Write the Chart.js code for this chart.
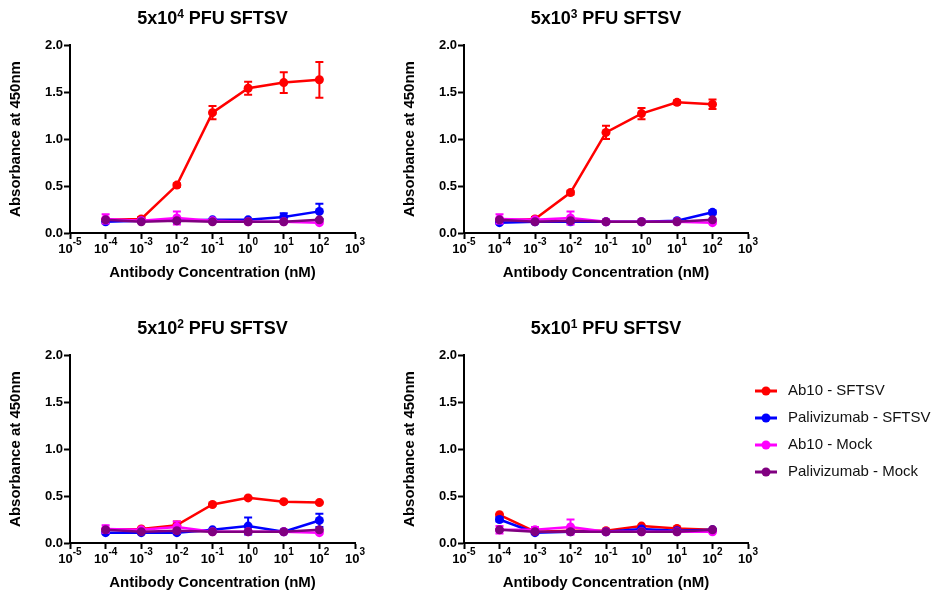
<!DOCTYPE html>
<html>
<head>
<meta charset="utf-8">
<script src="https://cdn.jsdelivr.net/npm/chart.js@4.4.1/dist/chart.umd.min.js"></script>
<style>
  body { margin: 0; width: 937px; height: 595px; overflow: hidden; background: #fff; position: relative; }
  canvas { position: absolute; }
</style>
</head>
<body>
<canvas id="p4" width="380" height="297" style="left:0;top:0"></canvas>
<canvas id="p3" width="390" height="297" style="left:380px;top:0"></canvas>
<canvas id="p2" width="380" height="297" style="left:0;top:310px"></canvas>
<canvas id="p1" width="557" height="297" style="left:380px;top:310px"></canvas>
<script>
// x values (nM) and axis ticks
const concentrations = [1e-4, 1e-3, 1e-2, 1e-1, 1, 10, 100];
const xTicks = [1e-5, 1e-4, 1e-3, 1e-2, 1e-1, 1, 10, 100, 1000];
const yTicks = [0, 0.5, 1.0, 1.5, 2.0];

const seriesNames = ['Ab10 - SFTSV', 'Palivizumab - SFTSV', 'Ab10 - Mock', 'Palivizumab - Mock'];
const seriesColors = ['#ff0000', '#0000ff', '#ff00ff', '#800080'];

// 5x10^4 PFU
const ab10Sftsv4 = [0.14, 0.15, 0.51, 1.28, 1.54, 1.60, 1.63];
const ab10Sftsv4Err = [0, 0.02, 0.02, 0.07, 0.07, 0.11, 0.19];
const paliSftsv4 = [0.12, 0.13, 0.13, 0.14, 0.14, 0.17, 0.23];
const paliSftsv4Err = [0, 0, 0, 0, 0, 0.04, 0.08];
const ab10Mock4 = [0.15, 0.13, 0.16, 0.13, 0.12, 0.12, 0.11];
const ab10Mock4Err = [0.05, 0.01, 0.07, 0, 0, 0, 0];
const paliMock4 = [0.14, 0.12, 0.13, 0.12, 0.12, 0.12, 0.14];
const paliMock4Err = [0, 0, 0, 0, 0, 0, 0];

// 5x10^3 PFU
const ab10Sftsv3 = [0.13, 0.15, 0.43, 1.07, 1.27, 1.39, 1.37];
const ab10Sftsv3Err = [0, 0.02, 0.02, 0.07, 0.06, 0.02, 0.05];
const paliSftsv3 = [0.11, 0.12, 0.12, 0.12, 0.12, 0.13, 0.22];
const paliSftsv3Err = [0, 0, 0, 0, 0, 0, 0.02];
const ab10Mock3 = [0.15, 0.14, 0.16, 0.12, 0.12, 0.12, 0.11];
const ab10Mock3Err = [0.05, 0.02, 0.07, 0, 0, 0, 0];
const paliMock3 = [0.14, 0.12, 0.13, 0.12, 0.12, 0.12, 0.14];
const paliMock3Err = [0, 0, 0, 0, 0, 0, 0];

// 5x10^2 PFU
const ab10Sftsv2 = [0.14, 0.15, 0.19, 0.41, 0.48, 0.44, 0.43];
const ab10Sftsv2Err = [0, 0.01, 0.04, 0.01, 0.01, 0.01, 0.01];
const paliSftsv2 = [0.11, 0.11, 0.11, 0.14, 0.18, 0.12, 0.24];
const paliSftsv2Err = [0, 0, 0, 0, 0.09, 0, 0.07];
const ab10Mock2 = [0.15, 0.14, 0.17, 0.12, 0.12, 0.12, 0.11];
const ab10Mock2Err = [0.04, 0.01, 0.06, 0, 0, 0, 0];
const paliMock2 = [0.14, 0.12, 0.13, 0.12, 0.12, 0.12, 0.14];
const paliMock2Err = [0, 0, 0, 0, 0, 0, 0];

// 5x10^1 PFU
const ab10Sftsv1 = [0.30, 0.12, 0.13, 0.13, 0.18, 0.155, 0.14];
const ab10Sftsv1Err = [0, 0, 0, 0, 0, 0, 0];
const paliSftsv1 = [0.25, 0.11, 0.12, 0.12, 0.15, 0.13, 0.14];
const paliSftsv1Err = [0.02, 0, 0, 0, 0, 0, 0];
const ab10Mock1 = [0.14, 0.14, 0.17, 0.12, 0.12, 0.12, 0.12];
const ab10Mock1Err = [0.04, 0.03, 0.08, 0, 0, 0, 0];
const paliMock1 = [0.14, 0.12, 0.12, 0.12, 0.12, 0.12, 0.14];
const paliMock1Err = [0, 0, 0, 0, 0, 0, 0];

const FONT = "'Liberation Sans', Arial, sans-serif";

// error bars, drawn with each dataset so the stacking matches
const errorBars = {
  id: 'errorBars',
  afterDatasetDraw(chart, args) {
    const ds = chart.data.datasets[args.index];
    const y = chart.scales.y;
    const ctx = chart.ctx;
    ctx.save();
    ctx.strokeStyle = ds.borderColor;
    ctx.lineWidth = 2;
    args.meta.data.forEach((pt, i) => {
      const e = ds.errors[i];
      if (!e) return;
      const v = ds.data[i].y;
      const top = y.getPixelForValue(v + e);
      const bot = y.getPixelForValue(v - e);
      ctx.beginPath();
      ctx.moveTo(pt.x, top); ctx.lineTo(pt.x, bot);
      ctx.moveTo(pt.x - 4, top); ctx.lineTo(pt.x + 4, top);
      ctx.moveTo(pt.x - 4, bot); ctx.lineTo(pt.x + 4, bot);
      ctx.stroke();
    });
    ctx.restore();
  }
};

// draws base + superscript + rest, centred at cx
function drawSup(ctx, base, sup, rest, cx, cy, size, supSize, rise) {
  ctx.font = 'bold ' + size + 'px ' + FONT;
  const w1 = ctx.measureText(base).width;
  const w3 = ctx.measureText(rest).width;
  ctx.font = 'bold ' + supSize + 'px ' + FONT;
  const w2 = ctx.measureText(sup).width;
  let x = cx - (w1 + w2 + w3) / 2;
  ctx.textAlign = 'left';
  ctx.textBaseline = 'middle';
  ctx.font = 'bold ' + size + 'px ' + FONT;
  ctx.fillText(base, x, cy);
  x += w1;
  ctx.font = 'bold ' + supSize + 'px ' + FONT;
  ctx.fillText(sup, x, cy - rise);
  x += w2;
  ctx.font = 'bold ' + size + 'px ' + FONT;
  ctx.fillText(rest, x, cy);
}

const panelText = {
  id: 'panelText',
  afterDraw(chart, args, opts) {
    const ctx = chart.ctx;
    const area = chart.chartArea;
    ctx.save();
    ctx.fillStyle = '#000';
    // title
    drawSup(ctx, '5x10', String(opts.exponent), ' PFU SFTSV', (area.left + area.right) / 2, 19, 18, 12, 4);
    // log tick labels 10^n
    const xs = chart.scales.x;
    xTicks.forEach(v => {
      const p = xs.getPixelForValue(v);
      drawSup(ctx, '10', String(Math.round(Math.log10(v))), '', p, area.bottom + 16, 13, 10, 7);
    });
    // legend (only on last panel)
    if (opts.legend) {
      ctx.font = '15px ' + FONT;
      ctx.textBaseline = 'middle';
      seriesNames.forEach((name, i) => {
        const ly = 81 + i * 27;
        ctx.strokeStyle = seriesColors[i];
        ctx.fillStyle = seriesColors[i];
        ctx.lineWidth = 3;
        ctx.beginPath();
        ctx.moveTo(375, ly); ctx.lineTo(397, ly);
        ctx.stroke();
        ctx.beginPath();
        ctx.arc(386, ly, 4.5, 0, Math.PI * 2);
        ctx.fill();
        ctx.fillStyle = '#111';
        ctx.fillText(name, 408, ly);
      });
    }
    ctx.restore();
  }
};

function makePanel(id, exponent, values, errors, padLeft, padRight, legend) {
  const datasets = values.map((vals, k) => ({
    label: seriesNames[k],
    data: concentrations.map((c, i) => ({ x: c, y: vals[i] })),
    errors: errors[k],
    borderColor: seriesColors[k],
    backgroundColor: seriesColors[k],
    pointBackgroundColor: seriesColors[k],
    pointBorderWidth: 0,
    pointRadius: 4.5,
    borderWidth: 2.5,
    tension: 0,
    order: 4 - k
  }));
  return new Chart(document.getElementById(id), {
    type: 'line',
    data: { datasets },
    plugins: [errorBars, panelText],
    options: {
      responsive: false,
      animation: false,
      events: [],
      layout: { padding: { top: 45, left: padLeft, right: padRight, bottom: 0 } },
      plugins: {
        legend: { display: false },
        tooltip: { enabled: false },
        panelText: { exponent, legend }
      },
      scales: {
        x: {
          type: 'logarithmic',
          min: 1e-5,
          max: 1e3,
          afterBuildTicks: s => { s.ticks = xTicks.map(v => ({ value: v })); },
          afterFit: s => { s.height = 64; },
          ticks: { display: false, autoSkip: false },
          grid: { drawOnChartArea: false, tickLength: 6, tickWidth: 2, color: '#000' },
          border: { color: '#000', width: 2 },
          title: {
            display: true, text: 'Antibody Concentration (nM)', color: '#000',
            font: { family: FONT, size: 15, weight: 'bold' }, padding: { top: 0, bottom: 15 }
          }
        },
        y: {
          min: 0,
          max: 2,
          afterBuildTicks: s => { s.ticks = yTicks.map(v => ({ value: v })); },
          afterFit: s => { s.width = 70; },
          ticks: {
            color: '#000', padding: 1,
            font: { family: FONT, size: 13, weight: 'bold' },
            callback: v => v.toFixed(1)
          },
          grid: { drawOnChartArea: false, tickLength: 6, tickWidth: 2, color: '#000' },
          border: { color: '#000', width: 2 },
          title: {
            display: true, text: 'Absorbance at 450nm', color: '#000',
            font: { family: FONT, size: 15, weight: 'bold' }, padding: { top: 7, bottom: 0 }
          }
        }
      }
    }
  });
}

makePanel('p4', 4,
  [ab10Sftsv4, paliSftsv4, ab10Mock4, paliMock4],
  [ab10Sftsv4Err, paliSftsv4Err, ab10Mock4Err, paliMock4Err], 0, 25, false);
makePanel('p3', 3,
  [ab10Sftsv3, paliSftsv3, ab10Mock3, paliMock3],
  [ab10Sftsv3Err, paliSftsv3Err, ab10Mock3Err, paliMock3Err], 14, 22, false);
makePanel('p2', 2,
  [ab10Sftsv2, paliSftsv2, ab10Mock2, paliMock2],
  [ab10Sftsv2Err, paliSftsv2Err, ab10Mock2Err, paliMock2Err], 0, 25, false);
makePanel('p1', 1,
  [ab10Sftsv1, paliSftsv1, ab10Mock1, paliMock1],
  [ab10Sftsv1Err, paliSftsv1Err, ab10Mock1Err, paliMock1Err], 14, 189, true);
</script>
</body>
</html>
